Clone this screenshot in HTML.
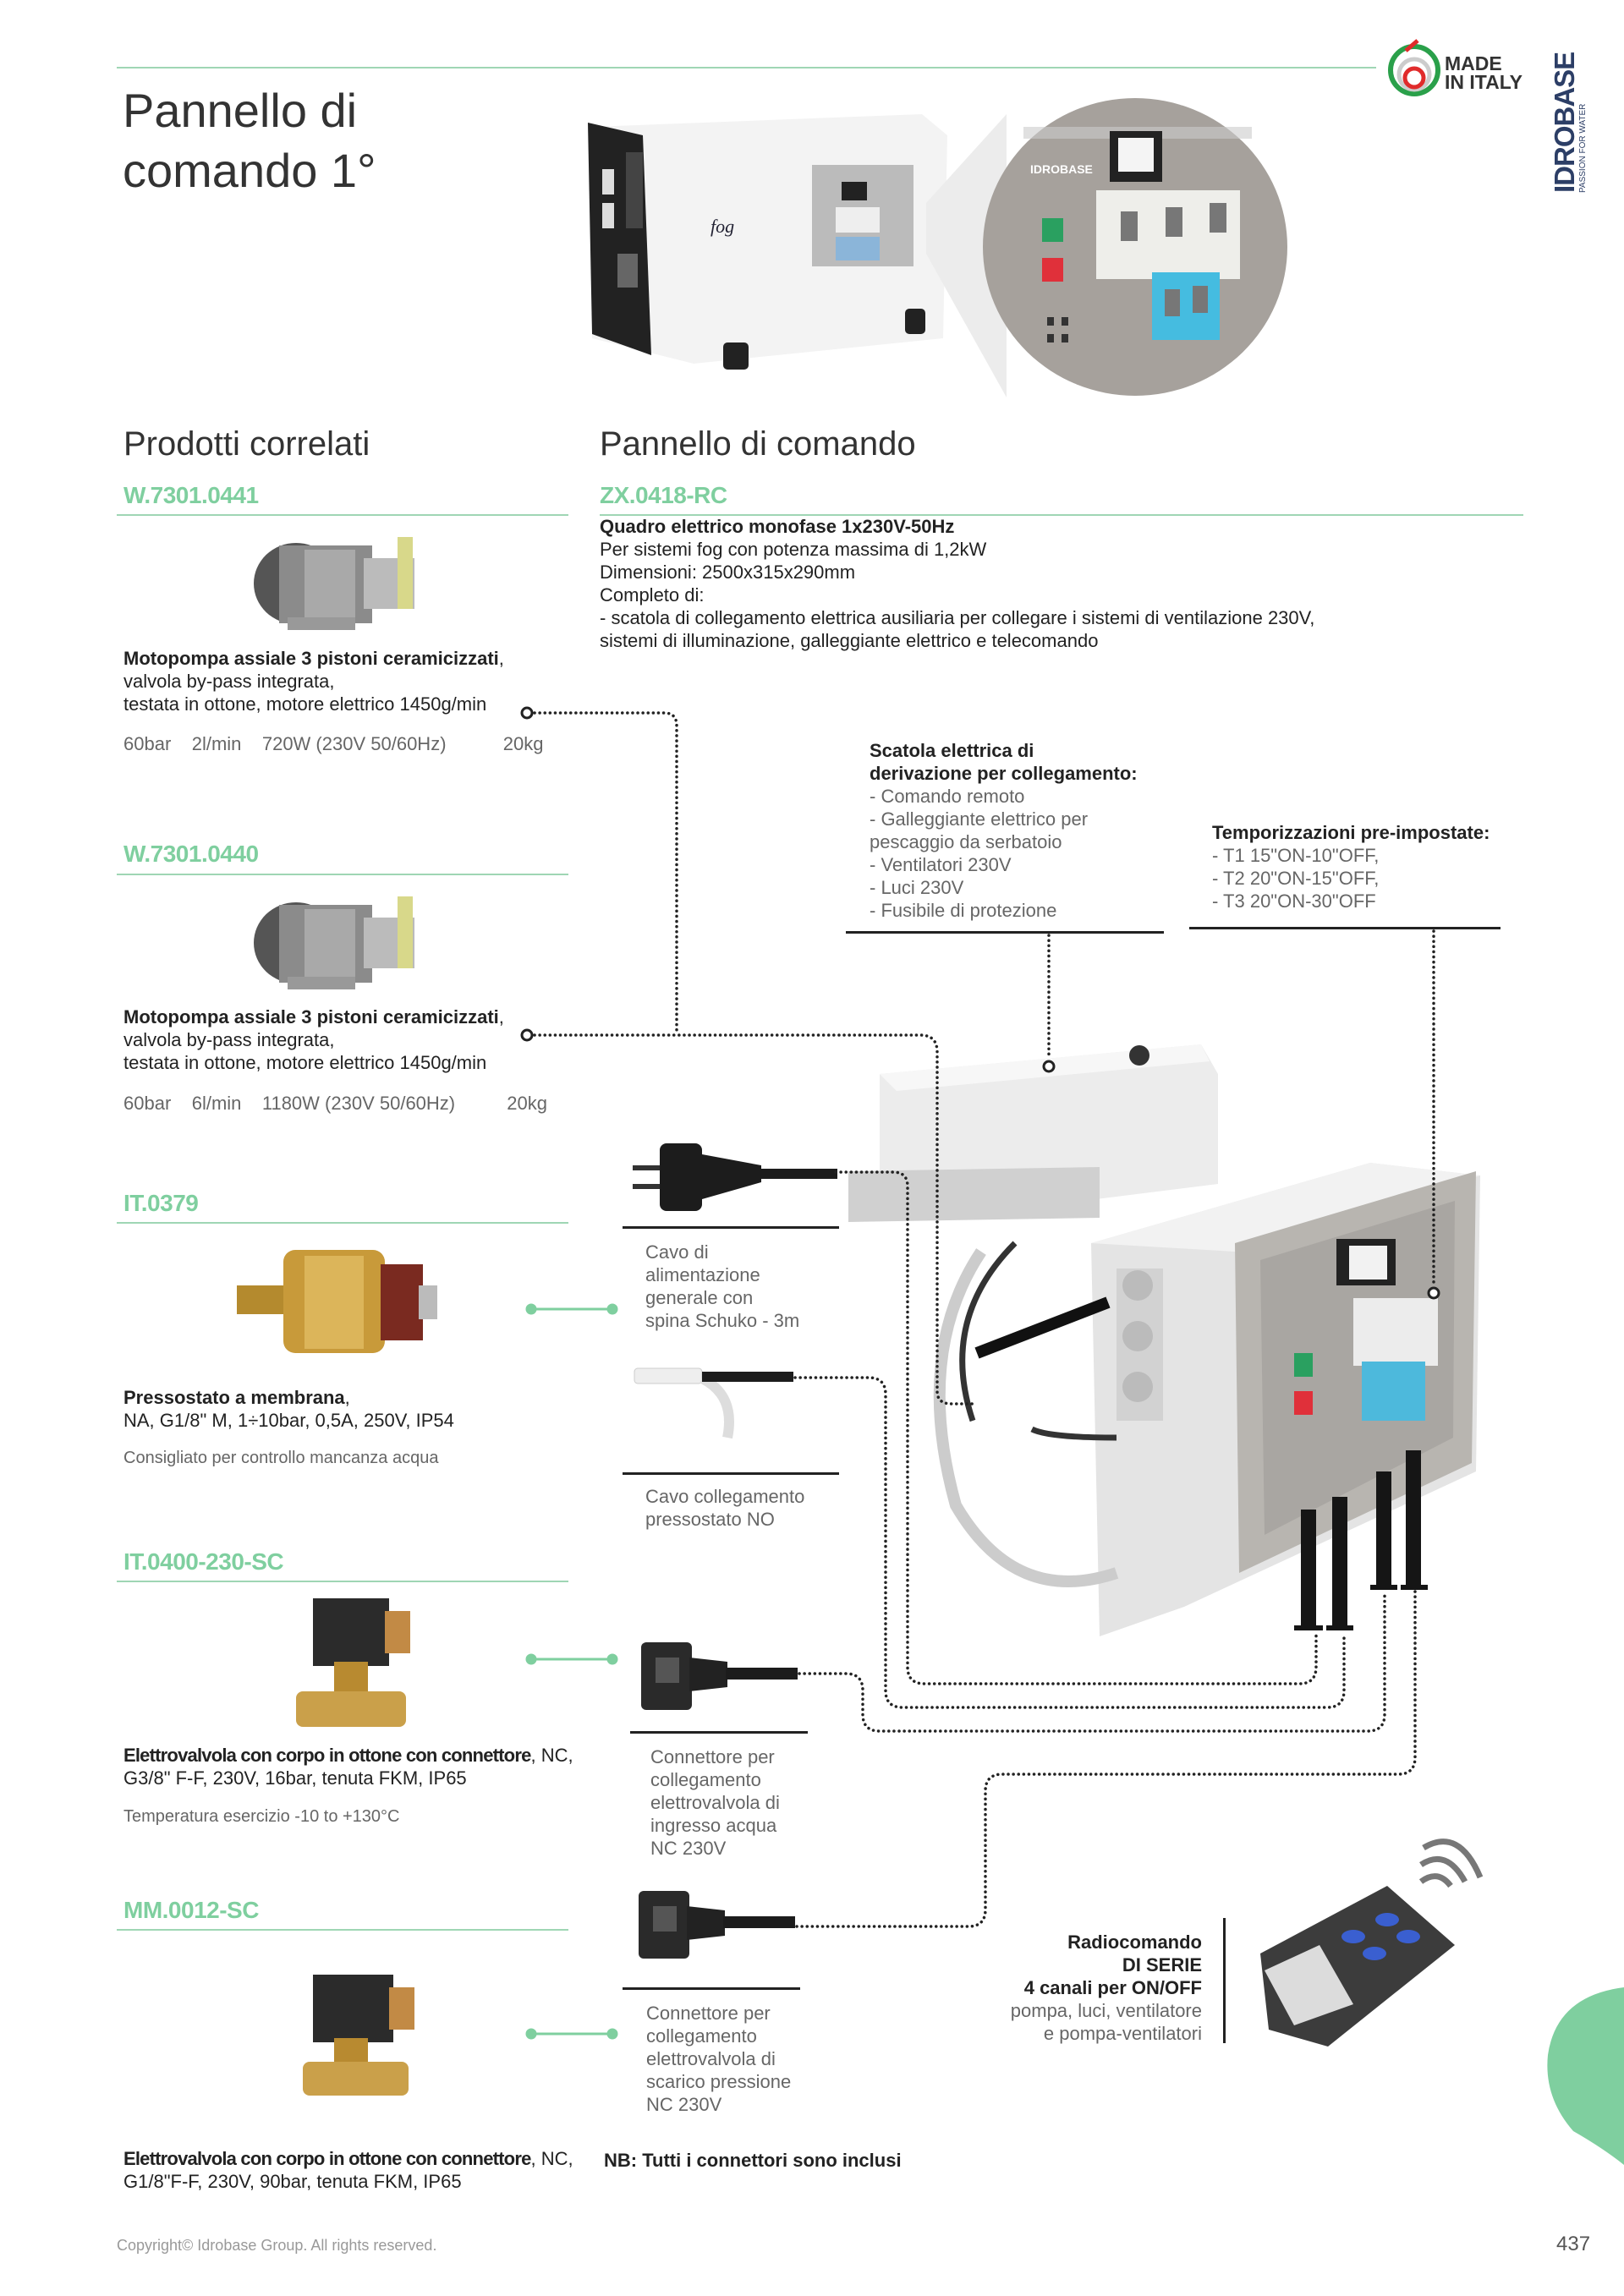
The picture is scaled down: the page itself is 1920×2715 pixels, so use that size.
<!DOCTYPE html>
<html><head><meta charset="utf-8">
<style>
*{margin:0;padding:0;box-sizing:border-box}
body{width:1920px;height:2715px;position:relative;background:#fff;font-family:"Liberation Sans",sans-serif;color:#222;overflow:hidden}
.a{position:absolute;white-space:nowrap}
.t{font-size:22px;line-height:27px}
.g{color:#666}
.code{font-size:28px;font-weight:bold;color:#7fcf9f;letter-spacing:-0.5px}
.h2{font-size:40px;color:#333}
.gl{position:absolute;height:2px;background:#9fd6b4}
.bl{position:absolute;height:3px;background:#222}
b{font-weight:bold}
.tb b{letter-spacing:-0.8px}
</style></head><body>

<svg class="a" style="left:0;top:0" width="1920" height="2715" viewBox="0 0 1920 2715">
<line x1="138" y1="80" x2="1627" y2="80" stroke="#9fd6b4" stroke-width="2"/>
<circle cx="1672" cy="83" r="28" fill="none" stroke="#2aa04a" stroke-width="6"/>
<circle cx="1672" cy="88" r="18" fill="none" stroke="#ccc" stroke-width="5"/>
<circle cx="1672" cy="92" r="11" fill="none" stroke="#e02b2b" stroke-width="5"/>
<line x1="1662" y1="60" x2="1676" y2="48" stroke="#e02b2b" stroke-width="5"/>

<polygon points="700,150 1090,135 1120,160 1115,400 820,430 700,400" fill="#f3f3f3"/>
<polygon points="695,145 760,160 770,420 700,395" fill="#222"/>
<rect x="712" y="200" width="14" height="30" fill="#ddd"/><rect x="712" y="240" width="14" height="30" fill="#ddd"/>
<rect x="740" y="180" width="20" height="90" fill="#444"/>
<rect x="730" y="300" width="24" height="40" fill="#666"/>
<rect x="855" y="405" width="30" height="32" rx="5" fill="#222"/>
<rect x="1070" y="365" width="24" height="30" rx="5" fill="#222"/>
<rect x="960" y="195" width="120" height="120" fill="#bbb"/>
<rect x="995" y="215" width="30" height="22" fill="#222"/>
<rect x="988" y="245" width="52" height="30" fill="#eee"/>
<rect x="988" y="280" width="52" height="28" fill="#8bb5d9"/>
<text x="840" y="275" font-family="Liberation Serif" font-size="22" font-style="italic" fill="#223">fog</text>
<polygon points="1095,240 1190,135 1190,470 1095,300" fill="#ececec"/>
<ellipse cx="1342" cy="292" rx="180" ry="176" fill="#a6a19c"/>
<rect x="1210" y="150" width="270" height="14" fill="#ccc" opacity="0.6"/>
<rect x="1312" y="155" width="62" height="60" fill="#222"/><rect x="1322" y="163" width="42" height="40" fill="#f4f4f4"/>
<rect x="1296" y="225" width="170" height="105" fill="#eeeeea"/>
<rect x="1325" y="250" width="20" height="35" fill="#777"/><rect x="1378" y="245" width="20" height="35" fill="#777"/><rect x="1430" y="240" width="20" height="35" fill="#777"/>
<rect x="1362" y="322" width="80" height="80" fill="#45bce0"/>
<rect x="1377" y="342" width="18" height="32" fill="#777"/><rect x="1410" y="338" width="18" height="32" fill="#777"/>
<rect x="1232" y="258" width="25" height="28" fill="#2aa060"/><rect x="1232" y="305" width="25" height="28" fill="#e0303a"/>
<rect x="1238" y="375" width="8" height="10" fill="#333"/><rect x="1255" y="375" width="8" height="10" fill="#333"/>
<rect x="1238" y="395" width="8" height="10" fill="#333"/><rect x="1255" y="395" width="8" height="10" fill="#333"/>
<text x="1218" y="205" font-size="14" font-weight="bold" fill="#fff">IDROBASE</text>

<g>
<ellipse cx="350" cy="690" rx="50" ry="48" fill="#555"/>
<rect x="330" y="645" width="110" height="92" fill="#8b8b8b"/>
<rect x="360" y="650" width="60" height="80" fill="#a9a9a9"/>
<rect x="430" y="660" width="60" height="60" fill="#bbb"/>
<rect x="470" y="635" width="18" height="85" fill="#d8d88a"/>
<rect x="340" y="730" width="80" height="15" fill="#999"/>
</g>
<g transform="translate(0,425)">
<ellipse cx="350" cy="690" rx="50" ry="48" fill="#555"/>
<rect x="330" y="645" width="110" height="92" fill="#8b8b8b"/>
<rect x="360" y="650" width="60" height="80" fill="#a9a9a9"/>
<rect x="430" y="660" width="60" height="60" fill="#bbb"/>
<rect x="470" y="635" width="18" height="85" fill="#d8d88a"/>
<rect x="340" y="730" width="80" height="15" fill="#999"/>
</g>
<rect x="280" y="1520" width="60" height="34" fill="#b48a2e"/>
<rect x="335" y="1478" width="120" height="122" rx="14" fill="#c89a3a"/>
<rect x="360" y="1485" width="70" height="110" fill="#dcb55a"/>
<rect x="450" y="1495" width="50" height="90" fill="#7a2a20"/>
<rect x="495" y="1520" width="22" height="40" fill="#bbb"/>
<rect x="370" y="1890" width="90" height="80" fill="#2b2b2b"/>
<rect x="455" y="1905" width="30" height="50" fill="#c28a45"/>
<rect x="395" y="1965" width="40" height="40" fill="#b88a30"/>
<rect x="350" y="2000" width="130" height="42" rx="8" fill="#caa04a"/>
<rect x="370" y="2335" width="95" height="80" fill="#2b2b2b"/>
<rect x="460" y="2350" width="30" height="50" fill="#c28a45"/>
<rect x="395" y="2410" width="40" height="30" fill="#b88a30"/>
<rect x="358" y="2438" width="125" height="40" rx="8" fill="#caa04a"/>

<rect x="748" y="1378" width="40" height="6" fill="#333"/><rect x="748" y="1400" width="40" height="6" fill="#333"/>
<rect x="780" y="1352" width="50" height="80" rx="8" fill="#1c1c1c"/>
<polygon points="830,1365 900,1378 900,1398 830,1418" fill="#1c1c1c"/>
<rect x="895" y="1382" width="95" height="12" fill="#1c1c1c"/>
<rect x="750" y="1618" width="80" height="18" rx="4" fill="#eee" stroke="#ccc"/>
<path d="M830,1630 Q870,1650 860,1700" stroke="#ddd" stroke-width="12" fill="none"/>
<rect x="830" y="1622" width="108" height="12" fill="#1c1c1c"/>
<rect x="758" y="1942" width="60" height="80" rx="6" fill="#2a2a2a"/><rect x="775" y="1960" width="28" height="30" fill="#555"/>
<polygon points="815,1960 860,1965 860,1995 815,2000" fill="#222"/><rect x="858" y="1972" width="85" height="14" fill="#1c1c1c"/>
<rect x="755" y="2236" width="60" height="80" rx="6" fill="#2a2a2a"/><rect x="772" y="2254" width="28" height="30" fill="#555"/>
<polygon points="812,2254 857,2259 857,2289 812,2294" fill="#222"/><rect x="855" y="2266" width="85" height="14" fill="#1c1c1c"/>

<polygon points="1040,1270 1420,1235 1440,1270 1440,1400 1120,1440 1040,1420" fill="#ececec"/>
<polygon points="1040,1270 1420,1235 1430,1255 1060,1290" fill="#f7f7f7"/>
<circle cx="1347" cy="1248" r="12" fill="#333"/>
<polygon points="1003,1385 1300,1380 1300,1440 1003,1445" fill="#d0d0d0"/>
<polygon points="1290,1470 1620,1375 1750,1390 1745,1740 1400,1900 1300,1935" fill="#e4e4e4"/>
<polygon points="1290,1470 1620,1375 1750,1390 1460,1480" fill="#f2f2f2"/>
<polygon points="1460,1470 1745,1385 1740,1730 1465,1860" fill="#b8b5b0"/>
<polygon points="1490,1490 1720,1420 1718,1700 1495,1815" fill="#a9a6a2"/>
<rect x="1580" y="1465" width="70" height="55" fill="#222"/><rect x="1595" y="1473" width="45" height="40" fill="#f2f2f2"/>
<rect x="1600" y="1535" width="100" height="80" fill="#ececec"/>
<rect x="1610" y="1610" width="75" height="70" fill="#4db9dc"/>
<rect x="1530" y="1600" width="22" height="28" fill="#2aa060"/><rect x="1530" y="1645" width="22" height="28" fill="#e0303a"/>
<rect x="1320" y="1500" width="55" height="180" fill="#d2d2d2"/>
<circle cx="1345" cy="1520" r="18" fill="#bbb"/><circle cx="1345" cy="1580" r="18" fill="#bbb"/><circle cx="1345" cy="1640" r="18" fill="#bbb"/>
<path d="M1160,1480 Q1080,1600 1130,1780 Q1200,1900 1320,1860" stroke="#ccc" stroke-width="14" fill="none"/>
<path d="M1200,1470 Q1110,1560 1150,1680" stroke="#333" stroke-width="7" fill="none"/>
<path d="M1220,1690 Q1240,1700 1320,1700" stroke="#333" stroke-width="7" fill="none"/>
<line x1="1155" y1="1600" x2="1310" y2="1540" stroke="#111" stroke-width="14"/>
<rect x="1538" y="1785" width="18" height="140" fill="#151515"/><rect x="1575" y="1770" width="18" height="155" fill="#151515"/>
<rect x="1627" y="1740" width="18" height="138" fill="#151515"/><rect x="1662" y="1715" width="18" height="163" fill="#151515"/>
<rect x="1530" y="1922" width="34" height="6" fill="#151515"/><rect x="1568" y="1922" width="32" height="6" fill="#151515"/>
<rect x="1620" y="1874" width="32" height="6" fill="#151515"/><rect x="1656" y="1874" width="32" height="6" fill="#151515"/>

<polygon points="1490,2310 1640,2230 1720,2300 1570,2420 1500,2400" fill="#3c3c3c"/>
<polygon points="1495,2330 1560,2300 1600,2370 1530,2395" fill="#dcdcdc"/>
<ellipse cx="1600" cy="2290" rx="14" ry="8" fill="#3a5fd0"/><ellipse cx="1640" cy="2270" rx="14" ry="8" fill="#3a5fd0"/>
<ellipse cx="1625" cy="2310" rx="14" ry="8" fill="#3a5fd0"/><ellipse cx="1665" cy="2290" rx="14" ry="8" fill="#3a5fd0"/>
<path d="M1680,2225 Q1700,2210 1715,2230" stroke="#777" stroke-width="7" fill="none"/>
<path d="M1680,2205 Q1710,2185 1732,2225" stroke="#777" stroke-width="7" fill="none"/>
<path d="M1683,2185 Q1725,2160 1750,2220" stroke="#777" stroke-width="7" fill="none"/>

<path d="M1920,2350 L1920,2560 Q1895,2540 1860,2520 Q1825,2480 1830,2430 Q1840,2360 1920,2350 Z" fill="#7fcf9f"/>

<g stroke="#222" stroke-width="3.5" stroke-dasharray="0.1 6" stroke-linecap="round" fill="none">
<path d="M632,843 H785 Q800,843 800,858 V1222"/>
<path d="M632,1224 H1088 Q1108,1224 1108,1244 V1645 Q1108,1660 1125,1660 H1150"/>
<path d="M988,1386 H1056 Q1073,1386 1073,1403 V1971 Q1073,1991 1093,1991 H1536 Q1556,1991 1556,1971 V1932"/>
<path d="M940,1629 H1027 Q1047,1629 1047,1649 V1999 Q1047,2019 1067,2019 H1569 Q1589,2019 1589,1999 V1932"/>
<path d="M945,1979 H1000 Q1020,1979 1020,1999 V2027 Q1020,2047 1040,2047 H1617 Q1637,2047 1637,2027 V1882"/>
<path d="M942,2278 H1145 Q1165,2278 1165,2258 V2118 Q1165,2098 1185,2098 H1653 Q1673,2098 1673,2078 V1882"/>
<path d="M1240,1106 V1252"/>
<path d="M1695,1101 V1520"/>
</g>
<g fill="#fff" stroke="#222" stroke-width="3">
<circle cx="623" cy="843" r="6"/><circle cx="623" cy="1224" r="6"/>
<circle cx="1240" cy="1261" r="6"/><circle cx="1695" cy="1529" r="6"/>
</g>
<g stroke="#7fcf9f" stroke-width="3" fill="#7fcf9f">
<line x1="628" y1="1548" x2="724" y2="1548"/><circle cx="628" cy="1548" r="5"/><circle cx="724" cy="1548" r="5"/>
<line x1="628" y1="1962" x2="724" y2="1962"/><circle cx="628" cy="1962" r="5"/><circle cx="724" cy="1962" r="5"/>
<line x1="628" y1="2405" x2="724" y2="2405"/><circle cx="628" cy="2405" r="5"/><circle cx="724" cy="2405" r="5"/>
</g>
</svg>

<div class="a" style="left:1708px;top:64px;font-size:23px;line-height:22px;font-weight:bold;color:#333">MADE<br>IN ITALY</div>
<div class="a" style="left:1835px;top:228px;transform:rotate(-90deg);transform-origin:0 0;font-size:33px;font-weight:bold;color:#2c3e66;line-height:30px;letter-spacing:-1px">IDROBASE</div>
<div class="a" style="left:1866px;top:228px;transform:rotate(-90deg);transform-origin:0 0;font-size:10px;color:#2c3e66;line-height:12px">PASSION FOR WATER</div>

<div class="a" style="left:145px;top:95px;font-size:56px;line-height:71px;color:#333">Pannello di<br>comando 1°</div>

<div class="a h2" style="left:146px;top:503px">Prodotti correlati</div>
<div class="a h2" style="left:709px;top:503px">Pannello di comando</div>

<div class="a code" style="left:146px;top:570px">W.7301.0441</div>
<div class="gl" style="left:138px;top:608px;width:534px"></div>
<div class="a code" style="left:709px;top:570px">ZX.0418-RC</div>
<div class="gl" style="left:709px;top:608px;width:1092px"></div>

<div class="a t" style="left:709px;top:609px"><b>Quadro elettrico monofase 1x230V-50Hz</b><br>Per sistemi fog con potenza massima di 1,2kW<br>Dimensioni: 2500x315x290mm<br>Completo di:<br>- scatola di collegamento elettrica ausiliaria per collegare i sistemi di ventilazione 230V,<br>sistemi di illuminazione, galleggiante elettrico e telecomando</div>

<div class="a t" style="left:146px;top:765px"><b>Motopompa assiale 3 pistoni ceramicizzati</b>,<br>valvola by-pass integrata,<br>testata in ottone, motore elettrico 1450g/min</div>
<div class="a t g" style="left:146px;top:866px">60bar&nbsp;&nbsp;&nbsp;&nbsp;2l/min&nbsp;&nbsp;&nbsp;&nbsp;720W (230V 50/60Hz)&nbsp;&nbsp;&nbsp;&nbsp;&nbsp;&nbsp;&nbsp;&nbsp;&nbsp;&nbsp;&nbsp;20kg</div>

<div class="a code" style="left:146px;top:994px">W.7301.0440</div>
<div class="gl" style="left:138px;top:1033px;width:534px"></div>
<div class="a t" style="left:146px;top:1189px"><b>Motopompa assiale 3 pistoni ceramicizzati</b>,<br>valvola by-pass integrata,<br>testata in ottone, motore elettrico 1450g/min</div>
<div class="a t g" style="left:146px;top:1291px">60bar&nbsp;&nbsp;&nbsp;&nbsp;6l/min&nbsp;&nbsp;&nbsp;&nbsp;1180W (230V 50/60Hz)&nbsp;&nbsp;&nbsp;&nbsp;&nbsp;&nbsp;&nbsp;&nbsp;&nbsp;&nbsp;20kg</div>

<div class="a code" style="left:146px;top:1407px">IT.0379</div>
<div class="gl" style="left:138px;top:1445px;width:534px"></div>
<div class="a t" style="left:146px;top:1639px"><b>Pressostato a membrana</b>,<br>NA, G1/8" M, 1÷10bar, 0,5A, 250V, IP54</div>
<div class="a g" style="left:146px;top:1713px;font-size:20px">Consigliato per controllo mancanza acqua</div>

<div class="a code" style="left:146px;top:1831px">IT.0400-230-SC</div>
<div class="gl" style="left:138px;top:1869px;width:534px"></div>
<div class="a t tb" style="left:146px;top:2062px"><b>Elettrovalvola con corpo in ottone con connettore</b>, NC,<br>G3/8" F-F, 230V, 16bar, tenuta FKM, IP65</div>
<div class="a g" style="left:146px;top:2137px;font-size:20px">Temperatura esercizio -10 to +130°C</div>

<div class="a code" style="left:146px;top:2243px">MM.0012-SC</div>
<div class="gl" style="left:138px;top:2281px;width:534px"></div>
<div class="a t tb" style="left:146px;top:2539px"><b>Elettrovalvola con corpo in ottone con connettore</b>, NC,<br>G1/8"F-F, 230V, 90bar, tenuta FKM, IP65</div>
<div class="a t" style="left:714px;top:2541px"><b>NB: Tutti i connettori sono inclusi</b></div>

<div class="bl" style="left:736px;top:1450px;width:256px"></div>
<div class="a t g" style="left:763px;top:1467px">Cavo di<br>alimentazione<br>generale con<br>spina Schuko - 3m</div>
<div class="bl" style="left:736px;top:1741px;width:256px"></div>
<div class="a t g" style="left:763px;top:1756px">Cavo collegamento<br>pressostato NO</div>
<div class="bl" style="left:745px;top:2047px;width:210px"></div>
<div class="a t g" style="left:769px;top:2064px">Connettore per<br>collegamento<br>elettrovalvola di<br>ingresso acqua<br>NC 230V</div>
<div class="bl" style="left:736px;top:2350px;width:210px"></div>
<div class="a t g" style="left:764px;top:2367px">Connettore per<br>collegamento<br>elettrovalvola di<br>scarico pressione<br>NC 230V</div>

<div class="a t" style="left:1028px;top:874px"><b>Scatola elettrica di<br>derivazione per collegamento:</b><br><span class="g">- Comando remoto<br>- Galleggiante elettrico per<br>pescaggio da serbatoio<br>- Ventilatori 230V<br>- Luci 230V<br>- Fusibile di protezione</span></div>
<div class="bl" style="left:1000px;top:1101px;width:376px"></div>
<div class="a t" style="left:1433px;top:971px"><b>Temporizzazioni pre-impostate:</b><br><span class="g">- T1 15"ON-10"OFF,<br>- T2 20"ON-15"OFF,<br>- T3 20"ON-30"OFF</span></div>
<div class="bl" style="left:1406px;top:1096px;width:368px"></div>

<div class="a t" style="left:1100px;top:2283px;width:321px;text-align:right"><b>Radiocomando<br>DI SERIE<br>4 canali per ON/OFF</b><br><span class="g">pompa, luci, ventilatore<br>e pompa-ventilatori</span></div>
<div class="a" style="left:1446px;top:2268px;width:3px;height:148px;background:#222"></div>

<div class="a g" style="left:138px;top:2645px;font-size:18px;color:#999">Copyright© Idrobase Group. All rights reserved.</div>
<div class="a" style="left:1840px;top:2640px;font-size:24px;color:#555">437</div>
</body></html>
